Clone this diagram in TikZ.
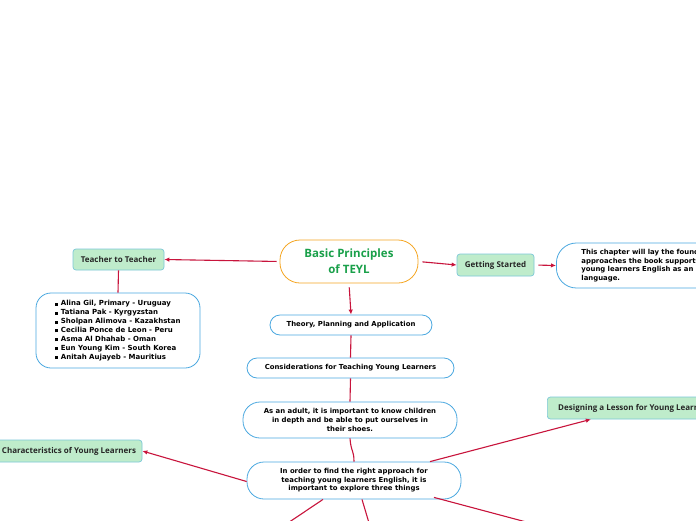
\documentclass[tikz,border=0pt]{standalone}
\usepackage{fontspec}
\setmainfont{DejaVu Sans}
\newfontfamily\gsans{Open Sans}
\usetikzlibrary{arrows.meta}
\definecolor{conred}{HTML}{C8143C}
\definecolor{bord}{HTML}{4AA8E0}
\definecolor{gfill}{HTML}{BFECCB}
\definecolor{gbord}{HTML}{7CC8D8}
\definecolor{orng}{HTML}{F5A623}
\definecolor{tgreen}{HTML}{1AA04A}
\tikzset{
  x=1pt,y=1pt,
  conn/.style={draw=conred,line width=1.1pt},
  arr/.style={conn,-{Latex[length=5pt,width=4.5pt]}},
  topic/.style={draw=bord,line width=0.8pt,fill=white,align=center,inner sep=0pt,
    font=\fontsize{6.9}{8.6}\selectfont\bfseries,text=black},
  gbox/.style={draw=gbord,line width=0.7pt,fill=gfill,rounded corners=3pt,inner sep=0pt,
    font=\gsans\fontsize{8}{9}\selectfont\bfseries,text=black!85},
}
\begin{document}
\begin{tikzpicture}
\useasboundingbox (0,0) rectangle (696,-520);
\clip (0,0) rectangle (696,-520);
\fill[white] (0,0) rectangle (696,-520);
% nodes
\node[draw=orng,line width=0.8pt,rounded corners=20pt,minimum width=138pt,minimum height=43pt,
  align=center,inner sep=0pt,font=\gsans\fontsize{11.5}{16}\selectfont\bfseries,text=tgreen]
  (c) at (349,-261.5) {Basic Principles\\of TEYL};
\node[gbox,minimum width=77pt,minimum height=22pt] (gs) at (495.5,-265) {Getting Started};
\node[topic,rounded corners=20pt,minimum width=260pt,minimum height=45pt,text width=210pt,
  align=left,inner xsep=24pt,anchor=west] (desc) at (556,-265.5)
  {This chapter will lay the foundations for the\\approaches the book supports for teaching\\young learners English as an additional\\language.};
\node[gbox,minimum width=91pt,minimum height=21pt] (tt) at (118.5,-259.5) {Teacher to Teacher};
\node[topic,rounded corners=15pt,minimum width=164pt,minimum height=75pt,align=left,
  font=\fontsize{7}{8.9}\selectfont\bfseries] (list) at (118,-330.5)
  {\rule{3pt}{3pt} Alina Gil, Primary - Uruguay\\
   \rule{3pt}{3pt} Tatiana Pak - Kyrgyzstan\\
   \rule{3pt}{3pt} Sholpan Alimova - Kazakhstan\\
   \rule{3pt}{3pt} Cecilia Ponce de Leon - Peru\\
   \rule{3pt}{3pt} Asma Al Dhahab - Oman\\
   \rule{3pt}{3pt} Eun Young Kim - South Korea\\
   \rule{3pt}{3pt} Anitah Aujayeb - Mauritius};
\node[topic,rounded corners=10pt,minimum width=162pt,minimum height=20pt] (th) at (351,-325)
  {Theory, Planning and Application};
\node[topic,rounded corners=10pt,minimum width=207pt,minimum height=20pt] (co) at (350.5,-368)
  {Considerations for Teaching Young Learners};
\node[topic,rounded corners=17pt,minimum width=214pt,minimum height=36pt] (ad) at (350,-420)
  {As an adult, it is important to know children\\in depth and be able to put ourselves in\\their shoes.};
\node[topic,rounded corners=17pt,minimum width=214pt,minimum height=37pt] (io) at (354,-480.5)
  {In order to find the right approach for\\teaching young learners English, it is\\important to explore three things};
\node[gbox,minimum width=146pt,minimum height=22pt] (ch) at (69,-451)
  {Characteristics of Young Learners};
\node[gbox,minimum width=175pt,minimum height=22pt,anchor=west] (dl) at (547,-408)
  {Designing a Lesson for Young Learners};
% free ends
\coordinate (o1) at (270,-535);
\coordinate (o2) at (372,-533);
\coordinate (o3) at (560,-531);
% connectors
\draw[arr,shorten <=3pt] (c.west) -- (tt.east);
\draw[arr,shorten <=4pt] (c.east) -- (gs.west);
\draw[arr,shorten <=4pt] (c.south) -- (th.north);
\draw[arr,shorten <=4pt] (gs.east) -- (desc.west);
\draw[conn] (tt.south) -- (list.north);
\draw[conn] (th.south) -- (co.north);
\draw[conn] (co.south) -- (ad.north);
\draw[conn] (ad.south) .. controls (351,-452) and (354,-450) .. (io.north);
\draw[arr] ([yshift=-1pt]io.west) -- (ch.east);
\draw[arr] ([xshift=76pt]io.north) -- ([xshift=-44pt]dl.south);
\draw[conn] ([xshift=-31pt]io.south) -- (o1);
\draw[conn] ([xshift=8pt]io.south) -- (o2);
\draw[conn] ([xshift=80pt,yshift=2pt]io.south) -- (o3);
\end{tikzpicture}
\end{document}
